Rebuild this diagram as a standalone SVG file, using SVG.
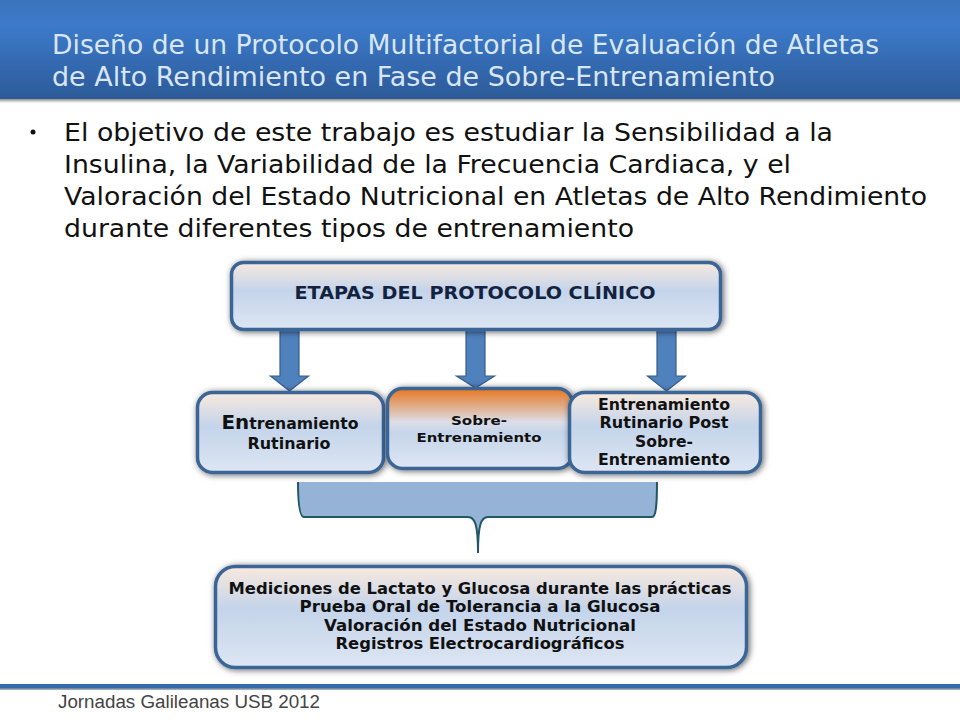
<svg xmlns="http://www.w3.org/2000/svg" width="960" height="720" viewBox="0 0 960 720">
<style>
.t{font-family:"DejaVu Sans",Verdana,sans-serif}
.title{font-size:26px;fill:#d8e6f5}
.body{font-size:25px;fill:#111}
.lab{font-weight:bold;fill:#111;text-anchor:middle;font-size:15px}
.box{fill:url(#boxg);stroke:#3b6595;stroke-width:3.500;filter:url(#sh)}
.arr{fill:#4f81bd;stroke:#385d8a;stroke-width:1.200}
</style>
<defs>
<linearGradient id="head" x1="0" y1="0" x2="0" y2="1"><stop offset="0" stop-color="#3a72bb"/><stop offset=".3" stop-color="#3c7aca"/><stop offset="1" stop-color="#2c5a98"/></linearGradient>
<linearGradient id="boxg" x1="0" y1="0" x2="0" y2="1"><stop offset="0" stop-color="#f8e9df"/><stop offset=".42" stop-color="#c4d4ea"/><stop offset="1" stop-color="#dde6f3"/></linearGradient>
<linearGradient id="orange" x1="0" y1="0" x2="0" y2="1"><stop offset="0" stop-color="#e6761e"/><stop offset=".42" stop-color="#dcdee8"/><stop offset=".55" stop-color="#c6d5ea"/><stop offset="1" stop-color="#dde6f3"/></linearGradient>
<filter id="sh" x="-10%" y="-15%" width="120%" height="130%"><feDropShadow dx="1.500" dy="1" stdDeviation="3" flood-color="#000" flood-opacity=".6"/></filter>
<filter id="sh2" x="-2%" y="-10%" width="104%" height="130%"><feDropShadow dx="0" dy="2" stdDeviation="1.500" flood-color="#000" flood-opacity=".45"/></filter>
</defs>
<rect width="960" height="720" fill="#fff"/>
<rect x="-5" y="-5" width="970" height="104" fill="url(#head)" filter="url(#sh2)"/>
<text class="t title" x="52" y="54" textLength="827" lengthAdjust="spacingAndGlyphs">Diseño de un Protocolo Multifactorial de Evaluación de Atletas</text>
<text class="t title" x="52" y="86" textLength="723" lengthAdjust="spacingAndGlyphs">de Alto Rendimiento en Fase de Sobre-Entrenamiento</text>
<circle cx="33" cy="132" r="2.500" fill="#111"/>
<g class="t body">
<text x="64" y="141" textLength="769" lengthAdjust="spacingAndGlyphs">El objetivo de este trabajo es estudiar la Sensibilidad a la</text>
<text x="64" y="173" textLength="727" lengthAdjust="spacingAndGlyphs">Insulina, la Variabilidad de la Frecuencia Cardiaca, y el</text>
<text x="64" y="205" textLength="863" lengthAdjust="spacingAndGlyphs">Valoración del Estado Nutricional en Atletas de Alto Rendimiento</text>
<text x="64" y="237" textLength="570" lengthAdjust="spacingAndGlyphs">durante diferentes tipos de entrenamiento</text>
</g>
<g id="connectors">
<path class="arr" d="M280 330H299V376H308.500L289.500 391L270.500 376H280Z"/>
<path class="arr" d="M466 330H485V376H494.500L475.500 388L456.500 376H466Z"/>
<path class="arr" d="M657 330H676V376H685.500L666.500 391L647.500 376H657Z"/>
</g>
<g id="node-etapas">
<rect class="box" x="231.500" y="262.500" width="489" height="67" rx="12"/>
<text class="t lab" x="475" y="299" style="font-size:17px;fill:#13233f" textLength="361" lengthAdjust="spacingAndGlyphs">ETAPAS DEL PROTOCOLO CLÍNICO</text>
</g>
<g id="node-rutinario">
<rect class="box" x="197.500" y="392.500" width="186" height="80" rx="15"/>
<text class="t lab" x="290" y="429" textLength="137" lengthAdjust="spacingAndGlyphs"><tspan style="font-size:19px">En</tspan>trenamiento</text>
<text class="t lab" x="289" y="449" textLength="83" lengthAdjust="spacingAndGlyphs">Rutinario</text>
</g>
<g id="node-sobre">
<rect class="box" x="387.500" y="388.500" width="185" height="80" rx="15" style="fill:url(#orange)"/>
<text class="t lab" x="479" y="425" style="font-size:13px" textLength="56" lengthAdjust="spacingAndGlyphs">Sobre-</text>
<text class="t lab" x="479" y="442" style="font-size:13px" textLength="125" lengthAdjust="spacingAndGlyphs">Entrenamiento</text>
</g>
<g id="node-post">
<rect class="box" x="569.500" y="392.500" width="191" height="80" rx="15"/>
<text class="t lab" x="664" y="410" textLength="132" lengthAdjust="spacingAndGlyphs">Entrenamiento</text>
<text class="t lab" x="664" y="428" textLength="129" lengthAdjust="spacingAndGlyphs">Rutinario Post</text>
<text class="t lab" x="664" y="447" textLength="58" lengthAdjust="spacingAndGlyphs">Sobre-</text>
<text class="t lab" x="664" y="465" textLength="132" lengthAdjust="spacingAndGlyphs">Entrenamiento</text>
</g>
<g id="brace">
<path d="M298 482H657C657 505 656 517 652 517H488C481 517 478 525 478 553C478 525 475 517 468 517H304C300 517 298 505 298 482Z" fill="#95b3d7"/>
<path d="M298 482C298 505 300 517 304 517H468C475 517 478 525 478 553C478 525 481 517 488 517H652C656 517 657 505 657 482" fill="none" stroke="#215868" stroke-width="2"/>
</g>
<g id="node-mediciones">
<rect class="box" x="215.500" y="566.500" width="531" height="101" rx="20"/>
<text class="t lab" x="480" y="594" textLength="503" lengthAdjust="spacingAndGlyphs">Mediciones de Lactato y Glucosa durante las prácticas</text>
<text class="t lab" x="480" y="612" textLength="361" lengthAdjust="spacingAndGlyphs">Prueba Oral de Tolerancia a la Glucosa</text>
<text class="t lab" x="480" y="631" textLength="312" lengthAdjust="spacingAndGlyphs">Valoración del Estado Nutricional</text>
<text class="t lab" x="480" y="649" textLength="289" lengthAdjust="spacingAndGlyphs">Registros Electrocardiográficos</text>
</g>
<rect x="-5" y="684" width="970" height="4.500" fill="#356aac" filter="url(#sh2)"/>
<text x="58" y="708" style="font-family:'Liberation Sans',Arial,sans-serif;font-size:18px;fill:#444" textLength="262" lengthAdjust="spacingAndGlyphs">Jornadas Galileanas USB 2012</text>
</svg>
